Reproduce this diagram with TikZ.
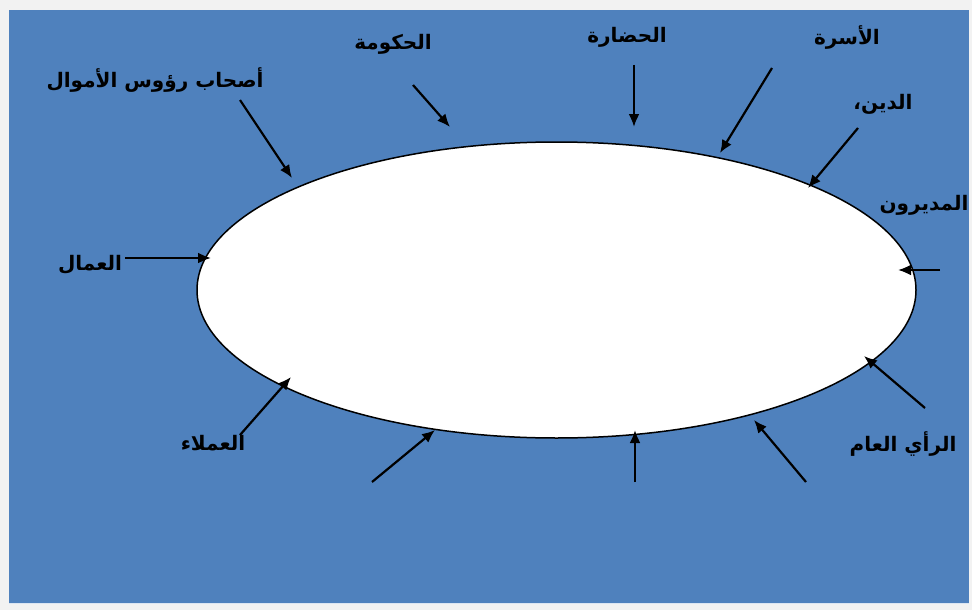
\documentclass[tikz,border=0pt]{standalone}
\usepackage{fontspec}
\usetikzlibrary{arrows.meta,shapes.geometric}
\TeXXeTstate=1
\newfontfamily\arabicfont[Script=Arabic]{DejaVu Sans}
\definecolor{bgblue}{HTML}{4F81BD}
\definecolor{framegray}{HTML}{F2F2F2}
\tikzset{
  lbl/.style={font=\arabicfont\bfseries\fontsize{20}{24}\selectfont, text=black, inner sep=0pt},
  inarrow/.style={draw=black, line width=2.2pt, -{Latex[length=13pt,width=11pt]}},
}
\begin{document}
\begin{tikzpicture}[x=1pt,y=-1pt]
\useasboundingbox (0,0) rectangle (972,610);
\fill[framegray] (0,0) rectangle (972,610);
\fill[bgblue] (9,10) rectangle (969,603);
\draw[white!80!bgblue, line width=0.8pt] (9,603) -- (969,603);
\node[ellipse, draw=black, fill=white, line width=1.5pt, minimum width=719pt, minimum height=296pt, inner sep=0pt] (ell) at (556.5,290) {};

\node[lbl] (l1) at (155,80) {\beginR أصحاب رؤوس الأموال\endR};
\node[lbl] (l2) at (393,44) {\beginR الحكومة\endR};
\node[lbl] (l3) at (627,37) {\beginR الحضارة\endR};
\node[lbl] (l4) at (847,37) {\beginR الأسرة\endR};
\node[lbl] (l5) at (883,104) {\beginR الدين،\endR};
\node[lbl] (l6) at (924,205) {\beginR المديرون\endR};
\node[lbl] (l7) at (90,265) {\beginR العمال\endR};
\node[lbl] (l8) at (213,443) {\beginR العملاء\endR};
\node[lbl] (l9) at (903,444) {\beginR الرأي العام\endR};

\coordinate (s1) at (240,100); \coordinate (e1) at (292,178);
\coordinate (s2) at (413,85);  \coordinate (e2) at (450,127);
\coordinate (s3) at (634,65);  \coordinate (e3) at (634,127);
\coordinate (s4) at (772,68);  \coordinate (e4) at (720,153);
\coordinate (s5) at (858,128); \coordinate (e5) at (808,188);
\coordinate (s6) at (940,270); \coordinate (e6) at (898,270);
\coordinate (s7) at (125,258); \coordinate (e7) at (211,258);
\coordinate (s8) at (240,435); \coordinate (e8) at (291,377);
\coordinate (s9) at (372,482); \coordinate (e9) at (435,430);
\coordinate (s10) at (635,482); \coordinate (e10) at (635,430);
\coordinate (s11) at (806,482); \coordinate (e11) at (754,420);
\coordinate (s12) at (925,408); \coordinate (e12) at (864,356);

\foreach \i in {1,...,12} {\draw[inarrow] (s\i) -- (e\i);}
\end{tikzpicture}
\end{document}
